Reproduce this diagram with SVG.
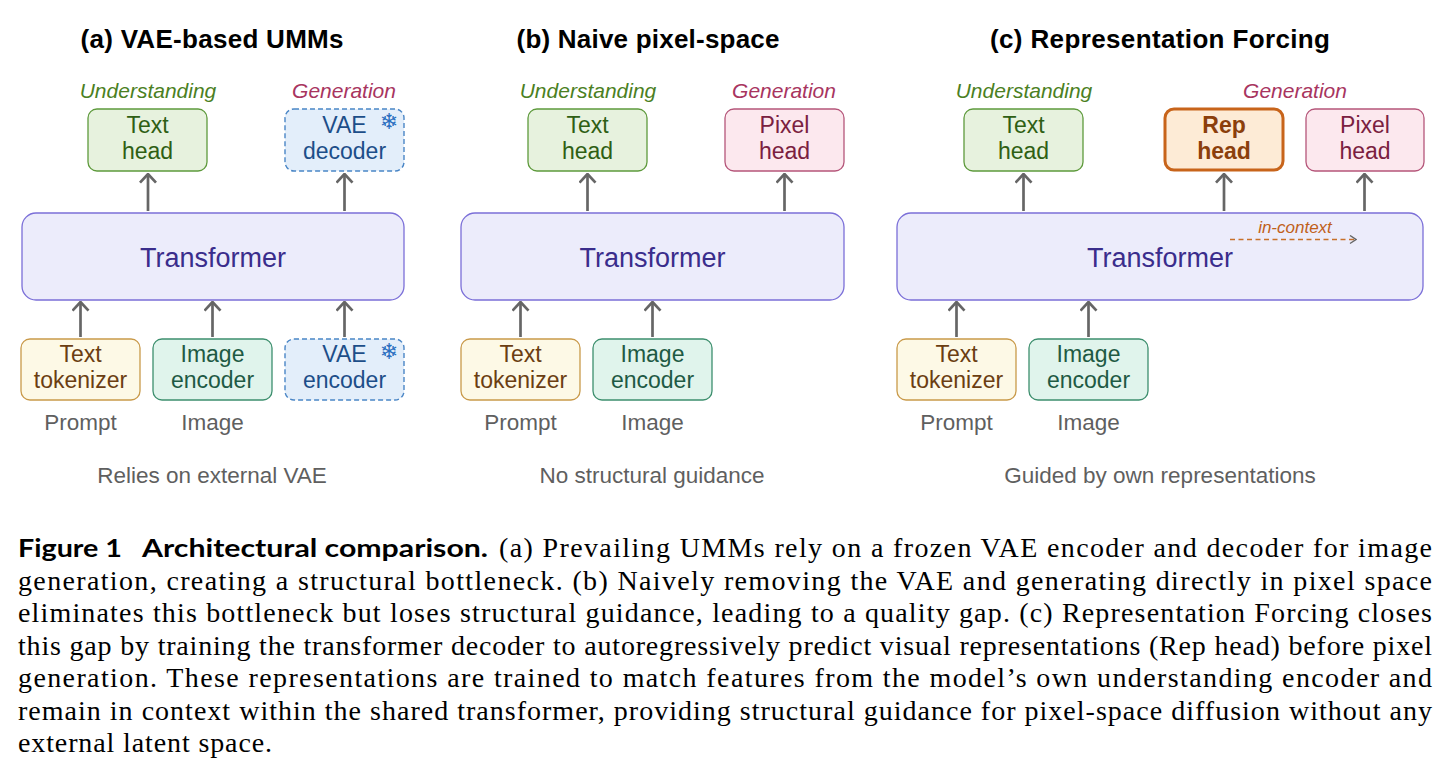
<svg xmlns="http://www.w3.org/2000/svg" width="1451" height="775" viewBox="0 0 1451 775">
<style>
.sans{font-family:"Liberation Sans",Arial,sans-serif}
.title{font-family:"Liberation Sans",Arial,sans-serif;font-weight:bold;font-size:26px;fill:#000;text-anchor:middle}
.lbl{font-family:"Liberation Sans",Arial,sans-serif;font-size:21px;font-style:italic;text-anchor:middle}
.und{fill:#4b7f23}
.gen{fill:#a8355f}
.bt{font-family:"Liberation Sans",Arial,sans-serif;font-size:23px;text-anchor:middle}
.gray{font-family:"Liberation Sans",Arial,sans-serif;font-size:22.5px;text-anchor:middle;fill:#5f5f5f}
.tf{fill:#ececfb;stroke:#7b6fd8;stroke-width:1.3}
.tft{font-family:"Liberation Sans",Arial,sans-serif;font-size:27px;text-anchor:middle;fill:#3a2d8c}
.th{fill:#e7f2de;stroke:#5e9a3c;stroke-width:1.3}
.tht{fill:#2f5f14}
.vae{fill:#e3eefa;stroke:#4a86c6;stroke-width:1.4;stroke-dasharray:5,3}
.vaet{fill:#1d4e89}
.px{fill:#fce8ee;stroke:#b5567a;stroke-width:1.3}
.pxt{fill:#7a2040}
.rep{fill:#fdebd6;stroke:#c8641a;stroke-width:3}
.rept{fill:#8b3f0c;font-weight:bold}
.tok{fill:#fdf9e6;stroke:#c99a4a;stroke-width:1.3}
.tokt{fill:#6b3e12}
.ie{fill:#e0f4ec;stroke:#3d8f6e;stroke-width:1.3}
.iet{fill:#1e5a44}
.arr{stroke:#666;stroke-width:2.7;fill:none;marker-end:url(#ah)}
.snow{font-family:"DejaVu Sans",sans-serif;font-size:22px;font-weight:bold;fill:#2a6fc0;text-anchor:middle}
.cap{font-family:"Liberation Serif","Times New Roman",serif;font-size:28px;fill:#000}
.capb{font-family:"Lato","Liberation Sans",Arial,sans-serif;font-weight:bold;font-size:25px;fill:#000}
</style>
<defs>
<marker id="ah" viewBox="0 0 11 18" refX="9.5" refY="9" markerWidth="11" markerHeight="18" orient="auto" markerUnits="userSpaceOnUse">
<path d="M0.8,1 L9.5,9 L0.8,17" fill="none" stroke="#666" stroke-width="2.7"/>
</marker>
<marker id="ah2" viewBox="0 0 8 10" refX="7" refY="5" markerWidth="8" markerHeight="10" orient="auto" markerUnits="userSpaceOnUse">
<path d="M1,1 L7,5 L1,9" fill="none" stroke="#666" stroke-width="1.4"/>
</marker>
</defs>

<!-- Titles -->
<text class="title" x="212" y="48" textLength="263" lengthAdjust="spacing">(a) VAE-based UMMs</text>
<text class="title" x="648" y="48" textLength="263" lengthAdjust="spacing">(b) Naive pixel-space</text>
<text class="title" x="1160" y="48" textLength="340" lengthAdjust="spacing">(c) Representation Forcing</text>

<!-- Section labels -->
<text class="lbl und" x="148" y="98">Understanding</text>
<text class="lbl gen" x="344" y="98">Generation</text>
<text class="lbl und" x="588" y="98">Understanding</text>
<text class="lbl gen" x="784" y="98">Generation</text>
<text class="lbl und" x="1024" y="98">Understanding</text>
<text class="lbl gen" x="1295" y="98">Generation</text>

<!-- Connectors -->
<g id="connectors">
<line class="arr" x1="148" y1="211" x2="148" y2="174"/>
<line class="arr" x1="344.5" y1="211" x2="344.5" y2="174"/>
<line class="arr" x1="80.5" y1="337" x2="80.5" y2="302"/>
<line class="arr" x1="212.5" y1="337" x2="212.5" y2="302"/>
<line class="arr" x1="344.5" y1="337" x2="344.5" y2="302"/>

<line class="arr" x1="587.5" y1="211" x2="587.5" y2="174"/>
<line class="arr" x1="784.5" y1="211" x2="784.5" y2="174"/>
<line class="arr" x1="520.5" y1="337" x2="520.5" y2="302"/>
<line class="arr" x1="652.5" y1="337" x2="652.5" y2="302"/>

<line class="arr" x1="1023.5" y1="211" x2="1023.5" y2="174"/>
<line class="arr" x1="1224" y1="211" x2="1224" y2="174"/>
<line class="arr" x1="1364.5" y1="211" x2="1364.5" y2="174"/>
<line class="arr" x1="956.5" y1="337" x2="956.5" y2="302"/>
<line class="arr" x1="1088.5" y1="337" x2="1088.5" y2="302"/>
</g>

<!-- Panel (a) -->
<g id="a-transformer"><rect class="tf" x="22" y="213" width="382" height="87" rx="14"/><text class="tft" x="213" y="267">Transformer</text></g>
<g id="a-texthead"><rect class="th" x="88" y="109" width="119" height="62" rx="9"/><text class="bt tht" x="147.5" y="133">Text</text><text class="bt tht" x="147.5" y="159">head</text></g>
<g id="a-vaedecoder"><rect class="vae" x="285" y="109" width="119" height="62" rx="9"/><text class="bt vaet" x="344.5" y="133">VAE</text><text class="bt vaet" x="344.5" y="159">decoder</text><text class="snow" x="389" y="129">❄</text></g>
<g id="a-tokenizer"><rect class="tok" x="21" y="339" width="119" height="61" rx="9"/><text class="bt tokt" x="80.5" y="362">Text</text><text class="bt tokt" x="80.5" y="388">tokenizer</text></g>
<g id="a-imageenc"><rect class="ie" x="153" y="339" width="119" height="61" rx="9"/><text class="bt iet" x="212.5" y="362">Image</text><text class="bt iet" x="212.5" y="388">encoder</text></g>
<g id="a-vaeencoder"><rect class="vae" x="285" y="339" width="119" height="61" rx="9"/><text class="bt vaet" x="344.5" y="362">VAE</text><text class="bt vaet" x="344.5" y="388">encoder</text><text class="snow" x="389" y="359">❄</text></g>
<text class="gray" x="80.5" y="430">Prompt</text>
<text class="gray" x="212.5" y="430">Image</text>
<text class="gray" x="212" y="483">Relies on external VAE</text>

<!-- Panel (b) -->
<g id="b-transformer"><rect class="tf" x="461" y="213" width="383" height="87" rx="14"/><text class="tft" x="652.5" y="267">Transformer</text></g>
<g id="b-texthead"><rect class="th" x="528" y="109" width="119" height="62" rx="9"/><text class="bt tht" x="587.5" y="133">Text</text><text class="bt tht" x="587.5" y="159">head</text></g>
<g id="b-pixelhead"><rect class="px" x="725" y="109" width="119" height="62" rx="9"/><text class="bt pxt" x="784.5" y="133">Pixel</text><text class="bt pxt" x="784.5" y="159">head</text></g>
<g id="b-tokenizer"><rect class="tok" x="461" y="339" width="119" height="61" rx="9"/><text class="bt tokt" x="520.5" y="362">Text</text><text class="bt tokt" x="520.5" y="388">tokenizer</text></g>
<g id="b-imageenc"><rect class="ie" x="593" y="339" width="119" height="61" rx="9"/><text class="bt iet" x="652.5" y="362">Image</text><text class="bt iet" x="652.5" y="388">encoder</text></g>
<text class="gray" x="520.5" y="430">Prompt</text>
<text class="gray" x="652.5" y="430">Image</text>
<text class="gray" x="652" y="483">No structural guidance</text>

<!-- Panel (c) -->
<g id="c-transformer"><rect class="tf" x="897" y="213" width="526" height="87" rx="14"/><text class="tft" x="1160" y="267">Transformer</text>
<text class="sans" x="1295" y="233" font-size="17" font-style="italic" fill="#c0601a" text-anchor="middle">in-context</text>
<line x1="1230" y1="239.5" x2="1356" y2="239.5" stroke="#c8702a" stroke-width="1.4" stroke-dasharray="5,3.5" marker-end="url(#ah2)"/></g>
<g id="c-texthead"><rect class="th" x="964" y="109" width="119" height="62" rx="9"/><text class="bt tht" x="1023.5" y="133">Text</text><text class="bt tht" x="1023.5" y="159">head</text></g>
<g id="c-rephead"><rect class="rep" x="1165" y="109" width="118" height="61" rx="9"/><text class="bt rept" x="1224" y="133">Rep</text><text class="bt rept" x="1224" y="159">head</text></g>
<g id="c-pixelhead"><rect class="px" x="1306" y="109" width="118" height="62" rx="9"/><text class="bt pxt" x="1365" y="133">Pixel</text><text class="bt pxt" x="1365" y="159">head</text></g>
<g id="c-tokenizer"><rect class="tok" x="897" y="339" width="119" height="61" rx="9"/><text class="bt tokt" x="956.5" y="362">Text</text><text class="bt tokt" x="956.5" y="388">tokenizer</text></g>
<g id="c-imageenc"><rect class="ie" x="1029" y="339" width="119" height="61" rx="9"/><text class="bt iet" x="1088.5" y="362">Image</text><text class="bt iet" x="1088.5" y="388">encoder</text></g>
<text class="gray" x="956.5" y="430">Prompt</text>
<text class="gray" x="1088.5" y="430">Image</text>
<text class="gray" x="1160" y="483">Guided by own representations</text>

<!-- Caption -->
<text class="capb" x="18" y="557" textLength="104" lengthAdjust="spacingAndGlyphs">Figure 1</text>
<text class="capb" x="142" y="557" textLength="346" lengthAdjust="spacingAndGlyphs">Architectural comparison.</text>
<text class="cap" x="499" y="557" textLength="933" lengthAdjust="spacing">(a) Prevailing UMMs rely on a frozen VAE encoder and decoder for image</text>
<text class="cap" x="18" y="589.5" textLength="1414" lengthAdjust="spacing">generation, creating a structural bottleneck. (b) Naively removing the VAE and generating directly in pixel space</text>
<text class="cap" x="18" y="622" textLength="1414" lengthAdjust="spacing">eliminates this bottleneck but loses structural guidance, leading to a quality gap. (c) Representation Forcing closes</text>
<text class="cap" x="18" y="654.5" textLength="1414" lengthAdjust="spacing">this gap by training the transformer decoder to autoregressively predict visual representations (Rep head) before pixel</text>
<text class="cap" x="18" y="687" textLength="1414" lengthAdjust="spacing">generation. These representations are trained to match features from the model’s own understanding encoder and</text>
<text class="cap" x="18" y="719.5" textLength="1414" lengthAdjust="spacing">remain in context within the shared transformer, providing structural guidance for pixel-space diffusion without any</text>
<text class="cap" x="18" y="752" textLength="254" lengthAdjust="spacing">external latent space.</text>
</svg>
